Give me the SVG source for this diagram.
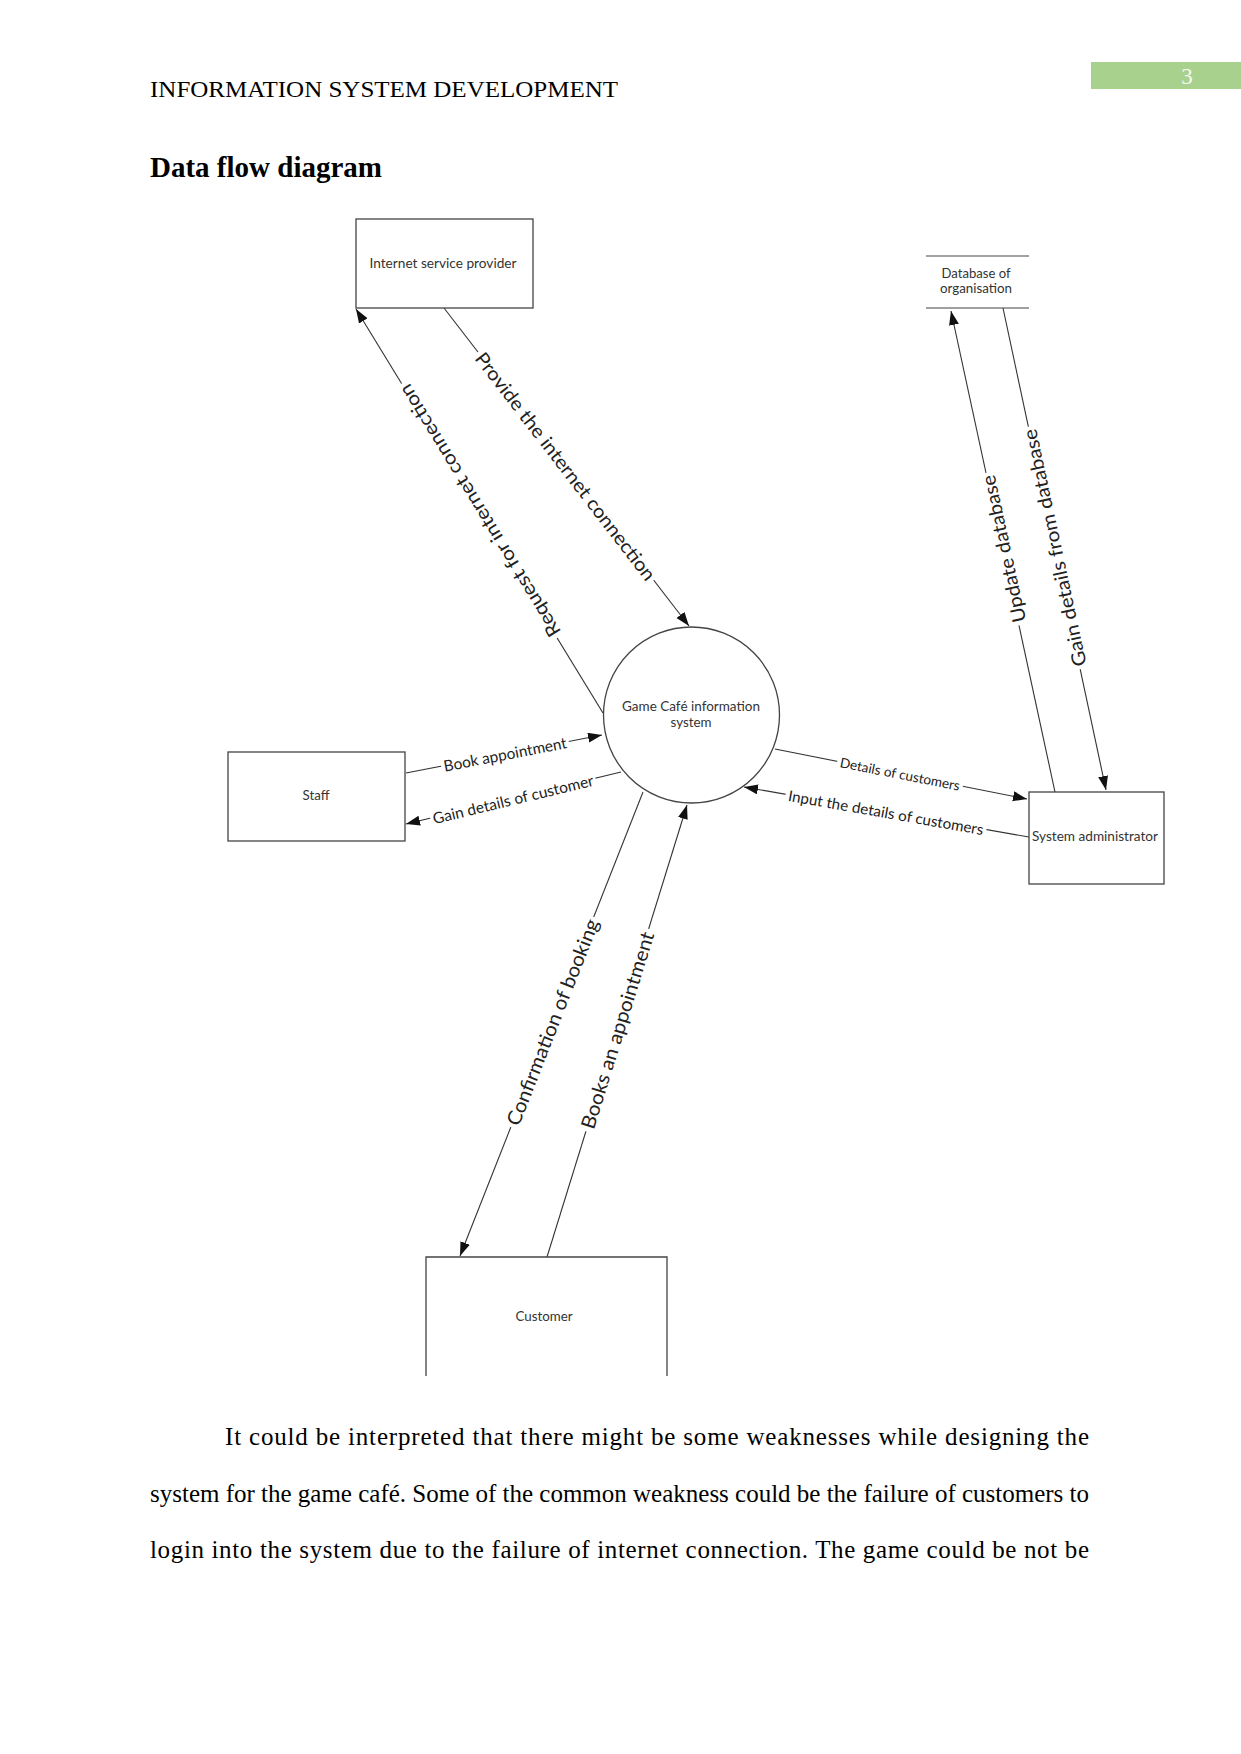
<svg xmlns="http://www.w3.org/2000/svg" width="1241" height="1754" viewBox="0 0 1241 1754">
<style>
.page{font-family:"Liberation Serif","Times New Roman",serif;fill:#000}
.node{fill:#fff;stroke:#444;stroke-width:1.3}
.ntext{font-family:Lato,"Liberation Sans",sans-serif;font-size:14px;fill:#333;text-anchor:middle}
.edge{stroke:#333;stroke-width:1.1;fill:none;marker-end:url(#arr)}
.lbl{font-family:Lato,"Liberation Sans",sans-serif;fill:#222;text-anchor:middle;dominant-baseline:central}
.lbg{fill:#fff}
</style>
<defs>
<marker id="arr" markerUnits="userSpaceOnUse" markerWidth="15" markerHeight="11" refX="14" refY="5" orient="auto">
<path d="M0,0 L14,5 L0,10 z" fill="#111"/>
</marker>
</defs>
<rect width="1241" height="1754" fill="#fff"/>
<!-- page header -->
<text class="page" x="150" y="97" font-size="24" textLength="468" lengthAdjust="spacingAndGlyphs">INFORMATION SYSTEM DEVELOPMENT</text>
<rect x="1091" y="62" width="150" height="27" fill="#a9d18e"/>
<text x="1187" y="84" font-family="Liberation Serif,serif" font-size="23" fill="#f4f9f0" text-anchor="middle">3</text>
<text class="page" x="150" y="177" font-size="29" font-weight="bold" textLength="232" lengthAdjust="spacingAndGlyphs">Data flow diagram</text>

<!-- connectors -->
<g id="connectors">
<line class="edge" x1="603" y1="713" x2="356" y2="309"/>
<line class="edge" x1="444" y1="308" x2="689" y2="626"/>
<line class="edge" x1="1055" y1="792" x2="951" y2="311"/>
<line class="edge" x1="1003" y1="308" x2="1106" y2="790"/>
<line class="edge" x1="406" y1="773" x2="602" y2="735"/>
<line class="edge" x1="621" y1="772" x2="406" y2="824"/>
<line class="edge" x1="775" y1="749" x2="1027" y2="799"/>
<line class="edge" x1="1029" y1="837" x2="744" y2="787"/>
<line class="edge" x1="643" y1="792" x2="460" y2="1256"/>
<line class="edge" x1="547" y1="1257" x2="687" y2="805"/>

<g transform="translate(479,511) rotate(-121.4)"><rect class="lbg" x="-149" y="-11" width="298" height="22"/><text class="lbl" font-size="19" textLength="292" lengthAdjust="spacingAndGlyphs">Request for internet connection</text></g>
<g transform="translate(566,466) rotate(52.4)"><rect class="lbg" x="-144" y="-11" width="288" height="22"/><text class="lbl" font-size="19" textLength="282" lengthAdjust="spacingAndGlyphs">Provide the internet connection</text></g>
<g transform="translate(1003,549) rotate(-102.2)"><rect class="lbg" x="-78" y="-11" width="156" height="22"/><text class="lbl" font-size="19" textLength="150" lengthAdjust="spacingAndGlyphs">Update database</text></g>
<g transform="translate(1054,548) rotate(-102.1)"><rect class="lbg" x="-124" y="-11" width="248" height="22"/><text class="lbl" font-size="19" textLength="242" lengthAdjust="spacingAndGlyphs">Gain details from database</text></g>
<g transform="translate(505,754) rotate(-11)"><rect class="lbg" x="-65" y="-9" width="130" height="18"/><text class="lbl" font-size="15.5" textLength="125" lengthAdjust="spacingAndGlyphs">Book appointment</text></g>
<g transform="translate(513,799) rotate(-13.6)"><rect class="lbg" x="-85" y="-9" width="170" height="18"/><text class="lbl" font-size="15.5" textLength="165" lengthAdjust="spacingAndGlyphs">Gain details of customer</text></g>
<g transform="translate(900,774) rotate(11.2)"><rect class="lbg" x="-64" y="-8" width="128" height="16"/><text class="lbl" font-size="13.5" textLength="122" lengthAdjust="spacingAndGlyphs">Details of customers</text></g>
<g transform="translate(886,812) rotate(10)"><rect class="lbg" x="-102" y="-9" width="204" height="18"/><text class="lbl" font-size="15" textLength="198" lengthAdjust="spacingAndGlyphs">Input the details of customers</text></g>
<g transform="translate(552,1022) rotate(-68.5)"><rect class="lbg" x="-113" y="-11" width="226" height="22"/><text class="lbl" font-size="19.5" textLength="220" lengthAdjust="spacingAndGlyphs">Confirmation of booking</text></g>
<g transform="translate(617,1030) rotate(-72.8)"><rect class="lbg" x="-106" y="-11" width="212" height="22"/><text class="lbl" font-size="19.5" textLength="205" lengthAdjust="spacingAndGlyphs">Books an appointment</text></g>
</g>

<!-- nodes -->
<g id="isp">
<rect class="node" x="356" y="219" width="177" height="89"/>
<text class="ntext" x="443" y="268" textLength="147" lengthAdjust="spacingAndGlyphs">Internet service provider</text>
</g>
<g id="database">
<line x1="926" y1="256" x2="1029" y2="256" stroke="#444" stroke-width="1.2"/>
<line x1="926" y1="308" x2="1029" y2="308" stroke="#444" stroke-width="1.2"/>
<text class="ntext" x="976" y="278" textLength="69" lengthAdjust="spacingAndGlyphs">Database of</text>
<text class="ntext" x="976" y="293" textLength="72" lengthAdjust="spacingAndGlyphs">organisation</text>
</g>
<g id="system">
<circle class="node" cx="691.5" cy="715" r="88"/>
<text class="ntext" x="691" y="711" textLength="138" lengthAdjust="spacingAndGlyphs">Game Café information</text>
<text class="ntext" x="691" y="727" textLength="41" lengthAdjust="spacingAndGlyphs">system</text>
</g>
<g id="staff">
<rect class="node" x="228" y="752" width="177" height="89"/>
<text class="ntext" x="316" y="800" textLength="27" lengthAdjust="spacingAndGlyphs">Staff</text>
</g>
<g id="sysadmin">
<rect class="node" x="1029" y="792" width="135" height="92"/>
<text class="ntext" x="1095" y="841" textLength="126" lengthAdjust="spacingAndGlyphs">System administrator</text>
</g>
<g id="customer">
<path class="node" d="M426,1376 V1257 H667 V1376" fill="none"/>
<text class="ntext" x="544" y="1321" textLength="57" lengthAdjust="spacingAndGlyphs">Customer</text>
</g>

<!-- body text -->
<text class="page" x="225" y="1445" font-size="25" textLength="864" lengthAdjust="spacing">It could be interpreted that there might be some weaknesses while designing the</text>
<text class="page" x="150" y="1502" font-size="25" textLength="939" lengthAdjust="spacing">system for the game café. Some of the common weakness could be the failure of customers to</text>
<text class="page" x="150" y="1558" font-size="25" textLength="939" lengthAdjust="spacing">login into the system due to the failure of internet connection. The game could be not be</text>
</svg>
